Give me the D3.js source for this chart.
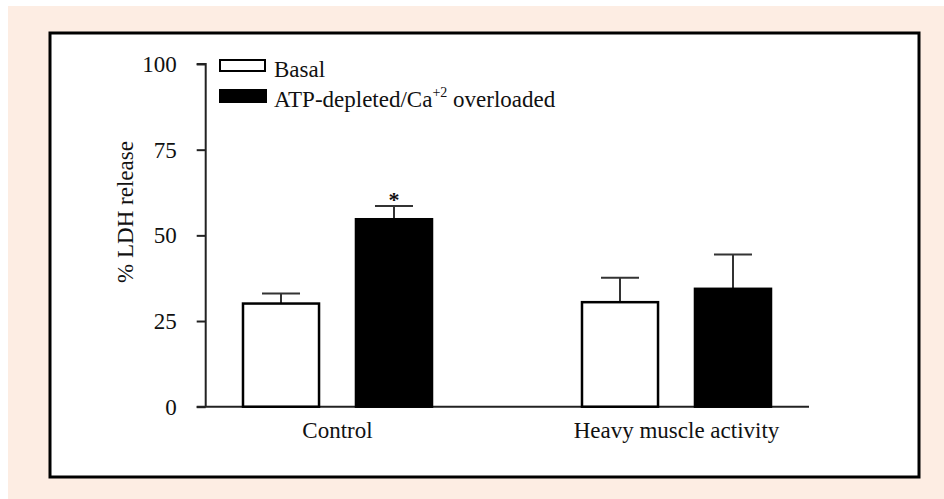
<!DOCTYPE html>
<html>
<head>
<meta charset="utf-8">
<script src="https://cdn.jsdelivr.net/npm/d3@7/dist/d3.min.js"></script>
<style>
  html, body { margin: 0; padding: 0; background: #ffffff; }
  svg { display: block; }
  text { font-family: "Liberation Serif", "Times New Roman", serif; fill: #111; }
</style>
</head>
<body>
<svg id="chart" width="944" height="499"></svg>
<script>
const categories = ["Control", "Heavy muscle activity"];
const seriesNames = ["Basal", "ATP-depleted/Ca+2 overloaded"];
const basalValues = [30.1, 30.5];
const basalErrors = [2.9, 7.1];
const atpValues = [54.7, 34.4];
const atpErrors = [3.9, 10.0];
const yTicks = [0, 25, 50, 75, 100];
const significance = ["*", ""];

const svg = d3.select("#chart");

// background panels
svg.append("rect").attr("x", 8).attr("y", 6).attr("width", 936).attr("height", 493).attr("fill", "#fdede3");
svg.append("rect").attr("x", 50).attr("y", 33).attr("width", 869).attr("height", 444)
  .attr("fill", "#ffffff").attr("stroke", "#000").attr("stroke-width", 3);

const y = d3.scaleLinear().domain([0, 100]).range([406.7, 64]);
const x0 = d3.scaleBand().domain(categories).range([168, 846]).padding(0);
const x1 = d3.scaleBand().domain(seriesNames).range([-113, 113]).paddingInner(0.327).paddingOuter(0.1637);

const axisLeftX = 205.7, axisRightX = 809;
const FS = "23px";

// y axis
const yAxis = svg.append("g").attr("transform", `translate(${axisLeftX},0)`)
  .call(d3.axisLeft(y).tickValues(yTicks).tickSize(9).tickPadding(20).tickFormat(d3.format("d")));
yAxis.select(".domain").attr("stroke", "#222").attr("stroke-width", 2);
yAxis.selectAll(".tick line").attr("stroke", "#222").attr("stroke-width", 2);
yAxis.selectAll(".tick text").style("font-size", FS).attr("fill", "#111")
  .style("font-family", "'Liberation Serif', serif");
yAxis.select(".domain").attr("d", `M-9,${y(100)}H0V${y(0)}`);

// x axis line
svg.append("line").attr("x1", axisLeftX - 9).attr("x2", axisRightX)
  .attr("y1", y(0)).attr("y2", y(0)).attr("stroke", "#222").attr("stroke-width", 2);

// category labels
const xAxis = svg.append("g").attr("transform", `translate(0,${y(0)})`)
  .call(d3.axisBottom(x0).tickSize(0).tickPadding(15));
xAxis.select(".domain").remove();
xAxis.selectAll(".tick text").style("font-size", FS).attr("fill", "#111")
  .style("font-family", "'Liberation Serif', serif");

// bars
const rows = categories.map((c, i) => [
  { cat: c, s: seriesNames[0], v: basalValues[i], e: basalErrors[i], fill: "#ffffff", sig: "" },
  { cat: c, s: seriesNames[1], v: atpValues[i], e: atpErrors[i], fill: "#000000", sig: significance[i] }
]).flat();

const g = svg.append("g");
rows.forEach(d => {
  const cx = x0(d.cat) + x0.bandwidth() / 2 + x1(d.s);
  const bw = x1.bandwidth();
  const mid = cx + bw / 2;
  g.append("line").attr("x1", mid).attr("x2", mid).attr("y1", y(d.v)).attr("y2", y(d.v + d.e))
    .attr("stroke", "#333").attr("stroke-width", 2);
  g.append("line").attr("x1", mid - 19).attr("x2", mid + 19).attr("y1", y(d.v + d.e)).attr("y2", y(d.v + d.e))
    .attr("stroke", "#333").attr("stroke-width", 2);
  g.append("rect").attr("x", cx).attr("y", y(d.v)).attr("width", bw).attr("height", y(0) - y(d.v))
    .attr("fill", d.fill).attr("stroke", "#000").attr("stroke-width", 2.5);
  if (d.sig) {
    g.append("text").attr("x", mid).attr("y", y(d.v + d.e) + 1).attr("text-anchor", "middle")
      .style("font-size", "22px").style("font-weight", "bold").text(d.sig);
  }
});

// y axis title
svg.append("text").attr("transform", `translate(133,212) rotate(-90)`)
  .attr("text-anchor", "middle").style("font-size", FS)
  .text("% LDH release");

// legend
const leg = svg.append("g");
leg.append("rect").attr("x", 220).attr("y", 60).attr("width", 45).attr("height", 11)
  .attr("fill", "#fff").attr("stroke", "#000").attr("stroke-width", 2);
leg.append("text").attr("x", 274).attr("y", 77).style("font-size", FS).text(seriesNames[0]);
leg.append("rect").attr("x", 219).attr("y", 89).attr("width", 48).attr("height", 14)
  .attr("fill", "#000");
const t2 = leg.append("text").attr("x", 274).attr("y", 107).style("font-size", FS);
t2.append("tspan").text("ATP-depleted/Ca");
t2.append("tspan").attr("dy", -10).style("font-size", "14px").text("+2");
t2.append("tspan").attr("dy", 10).text(" overloaded");
</script>
</body>
</html>
